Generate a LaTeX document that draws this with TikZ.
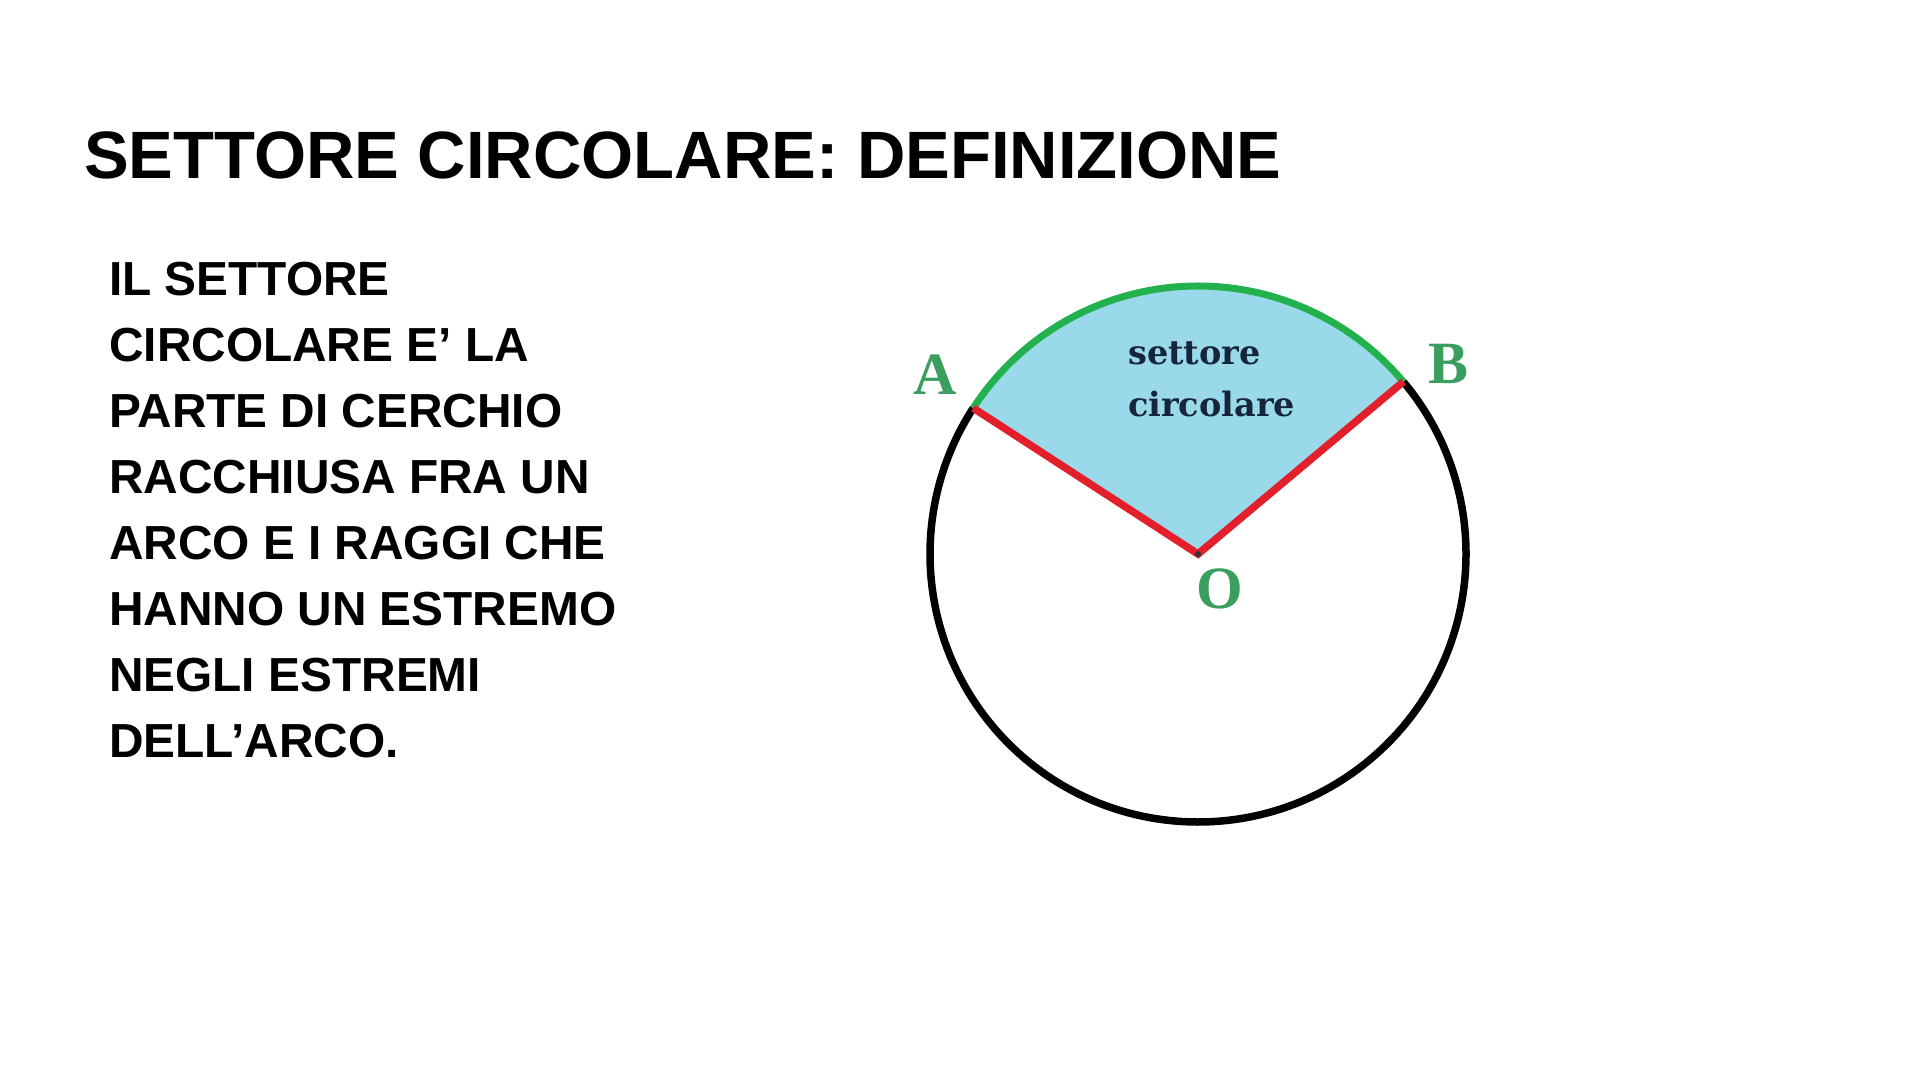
\documentclass[tikz,border=0pt]{standalone}
\usepackage{fontspec}
\usetikzlibrary{calc}
\setmainfont{Liberation Sans}
\newfontfamily\dvserif{DejaVu Serif}
\newfontfamily\tmserif{Liberation Serif}
\definecolor{sectorblue}{HTML}{99D9EA}
\definecolor{arcgreen}{HTML}{22B14C}
\definecolor{radred}{HTML}{E21F2A}
\definecolor{lblgreen}{HTML}{3A9E5E}
\definecolor{sectext}{HTML}{16263A}
\tikzset{
  titletext/.style={anchor=base west, inner sep=0pt, font=\fontsize{67}{80}\selectfont\bfseries},
  bodytext/.style={anchor=base west, inner sep=0pt, font=\fontsize{47.8}{66}\selectfont\bfseries},
  ptlabel/.style={inner sep=0pt, text=lblgreen, font=\fontsize{60}{60}\selectfont\tmserif\bfseries},
  sectorlabel/.style={anchor=base west, inner sep=0pt, text=sectext, font=\fontsize{33.5}{52}\selectfont\dvserif\bfseries},
  circline/.style={line width=7.5pt, black},
  arcline/.style={line width=7pt, arcgreen},
  radline/.style={line width=7.5pt, radred, line join=miter}
}
\begin{document}
\begin{tikzpicture}[x=1pt,y=1pt]
\useasboundingbox (0,0) rectangle (1920,1080);
\fill[white] (0,0) rectangle (1920,1080);
% title
\node[titletext] (title) at (84,901) {SETTORE CIRCOLARE: DEFINIZIONE};
% body text
\foreach \t [count=\i] in {IL SETTORE, CIRCOLARE E’ LA, PARTE DI CERCHIO, RACCHIUSA FRA UN, ARCO E I RAGGI CHE, HANNO UN ESTREMO, NEGLI ESTREMI, DELL’ARCO.}{
  \node[bodytext] (line\i) at (109,{784-66*(\i-1)}) {\t};
}
% geometry
\coordinate (O) at (1198,526);
\coordinate (A) at ($(O)+(147:268)$);
\coordinate (B) at ($(O)+(40:268)$);
\fill[sectorblue] (O) -- (A) arc[start angle=147, end angle=40, radius=268] -- cycle;
\draw[circline] (B) arc[start angle=40, end angle=-213, radius=268];
\draw[arcline] (A) arc[start angle=147, end angle=40, radius=268];
\draw[radline] (A) -- (O) -- (B);
\fill[black!80] (O) circle (3);
% labels
\node[sectorlabel] (settore) at (1128,715) {settore};
\node[sectorlabel] (circolare) at (1128,663) {circolare};
\node[ptlabel] (labA) at (935,705) {A};
\node[ptlabel] (labB) at (1448,716) {B};
\node[ptlabel] (labO) at (1220,491) {O};
\end{tikzpicture}
\end{document}
